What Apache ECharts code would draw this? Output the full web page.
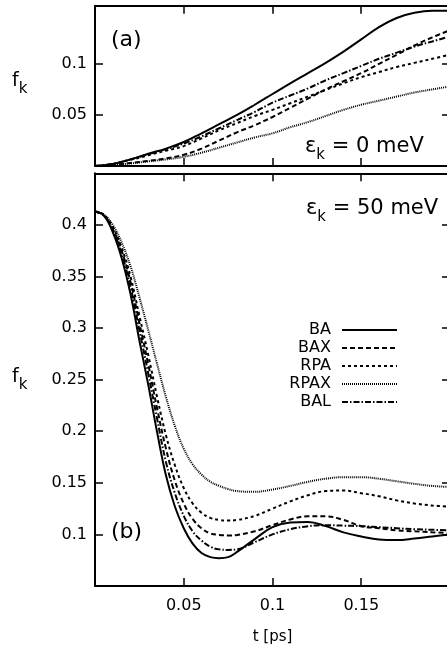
<!DOCTYPE html>
<html>
<head>
<meta charset="utf-8">
<script src="https://cdn.jsdelivr.net/npm/echarts@6/dist/echarts.min.js"></script>
<style>html,body{margin:0;padding:0;background:#fff}#c{width:447px;height:645px}</style>
</head>
<body>
<div id="c"></div>
<script>
// ---- panel (a): eps_k = 0 meV ----
const tA = [0,0.01,0.02,0.03,0.04,0.05,0.06,0.07,0.08,0.09,0.10,0.11,0.12,0.13,0.14,0.15,0.16,0.17,0.18,0.19,0.20];
const baA   = [0,0.002,0.0065,0.012,0.017,0.0235,0.032,0.041,0.050,0.060,0.0705,0.081,0.091,0.101,0.112,0.124,0.136,0.145,0.150,0.152,0.152];
const baxA  = [0,0.001,0.003,0.005,0.0075,0.011,0.017,0.025,0.033,0.040,0.048,0.057,0.066,0.075,0.083,0.091,0.100,0.109,0.118,0.126,0.133];
const rpaA  = [0,0.002,0.006,0.0105,0.015,0.0195,0.027,0.035,0.042,0.049,0.055,0.0615,0.068,0.0745,0.081,0.087,0.092,0.097,0.101,0.105,0.109];
const rpaxA = [0,0.001,0.0025,0.0045,0.0065,0.009,0.013,0.018,0.023,0.028,0.032,0.038,0.043,0.049,0.055,0.060,0.064,0.068,0.072,0.075,0.078];
const balA  = [0,0.002,0.0065,0.0115,0.0165,0.022,0.029,0.037,0.045,0.053,0.062,0.069,0.076,0.084,0.091,0.098,0.105,0.111,0.117,0.122,0.127];

// ---- panel (b): eps_k = 50 meV ----
const tB = [0,0.005,0.01,0.015,0.02,0.025,0.03,0.035,0.04,0.045,0.05,0.055,0.06,0.065,0.07,0.075,0.08,0.09,0.10,0.11,0.12,0.13,0.14,0.15,0.16,0.17,0.18,0.19,0.20];
const baB   = [0.413,0.409,0.393,0.368,0.333,0.288,0.245,0.199,0.157,0.127,0.106,0.091,0.082,0.078,0.077,0.078,0.083,0.0955,0.107,0.1115,0.112,0.108,0.102,0.098,0.095,0.0945,0.096,0.098,0.100];
const baxB  = [0.413,0.409,0.396,0.375,0.345,0.305,0.265,0.222,0.183,0.152,0.130,0.115,0.106,0.101,0.0995,0.099,0.0995,0.103,0.109,0.1145,0.1175,0.1175,0.114,0.108,0.106,0.104,0.103,0.102,0.1015];
const rpaB  = [0.413,0.410,0.398,0.378,0.350,0.312,0.274,0.233,0.196,0.167,0.145,0.130,0.121,0.116,0.114,0.1135,0.114,0.118,0.125,0.132,0.138,0.142,0.1425,0.140,0.137,0.133,0.130,0.128,0.127];
const rpaxB = [0.413,0.410,0.400,0.383,0.360,0.330,0.298,0.265,0.233,0.205,0.183,0.168,0.158,0.151,0.147,0.144,0.142,0.1413,0.1435,0.147,0.151,0.154,0.1555,0.1555,0.154,0.1515,0.149,0.147,0.146];
const balB  = [0.413,0.409,0.395,0.372,0.340,0.298,0.256,0.212,0.170,0.140,0.118,0.103,0.094,0.088,0.0855,0.085,0.0855,0.0925,0.100,0.105,0.108,0.109,0.1085,0.108,0.107,0.106,0.105,0.1045,0.104];

const seriesNames = ['BA','BAX','RPA','RPAX','BAL'];
const yTicksA = [0.05,0.10];

const FONT = 'DejaVu Sans';
const styles = {
  BA:   {type:'solid', width:2},
  BAX:  {type:[5,3], width:2},
  RPA:  {type:[3,3], width:2},
  RPAX: {type:[1,1], width:2},
  BAL:  {type:[6,2,1.5,2], width:2}
};
const zip = (t, v) => t.map((x, i) => [x, v[i]]);
const fmt = v => String(+(+v).toFixed(3));

const panelA = {BA:baA, BAX:baxA, RPA:rpaA, RPAX:rpaxA, BAL:balA};
const panelB = {BA:baB, BAX:baxB, RPA:rpaB, RPAX:rpaxB, BAL:balB};

const axLine = () => ({show:true, onZero:false, lineStyle:{color:'#000', width:2}});
const tick = () => ({show:true, inside:true, length:8, lineStyle:{color:'#000', width:1.5}});
const lbl = {color:'#000', fontFamily:FONT, fontSize:16};

function xAx(grid, pos, labels) {
  return {
    type:'value', gridIndex:grid, position:pos, min:0, max:0.2, interval:0.05,
    axisLine:axLine(), axisTick:tick(), splitLine:{show:false},
    axisLabel: labels ? Object.assign({show:true, showMinLabel:false, showMaxLabel:false, formatter:fmt, margin:12}, lbl) : {show:false}
  };
}

const xAxis = [xAx(0,'bottom',false), xAx(0,'top',false), xAx(1,'bottom',true), xAx(1,'top',false)];
xAxis[2].name = 't [ps]';
xAxis[2].nameLocation = 'middle';
xAxis[2].nameGap = 44;
xAxis[2].nameTextStyle = {color:'#000', fontFamily:FONT, fontSize:15};

const yAxis = [
  {type:'value', gridIndex:0, position:'left', min:0, max:0.157,
   axisLine:axLine(), axisTick:Object.assign(tick(), {customValues:yTicksA}), splitLine:{show:false},
   axisLabel:Object.assign({customValues:yTicksA, formatter:fmt, margin:8}, lbl)},
  {type:'value', gridIndex:0, position:'right', min:0, max:0.157,
   axisLine:axLine(), axisTick:Object.assign(tick(), {customValues:yTicksA}), splitLine:{show:false},
   axisLabel:{show:false}},
  {type:'value', gridIndex:1, position:'left', min:0.05, max:0.45, interval:0.05,
   axisLine:axLine(), axisTick:tick(), splitLine:{show:false},
   axisLabel:Object.assign({showMinLabel:false, showMaxLabel:false, formatter:fmt, margin:8}, lbl)},
  {type:'value', gridIndex:1, position:'right', min:0.05, max:0.45, interval:0.05,
   axisLine:axLine(), axisTick:tick(), splitLine:{show:false}, axisLabel:{show:false}}
];

const series = [];
seriesNames.forEach(n => {
  series.push({name:n, type:'line', xAxisIndex:0, yAxisIndex:0, data:zip(tA, panelA[n]),
    smooth:0.4, symbol:'none', color:'#000', lineStyle:Object.assign({color:'#000'}, styles[n]),
    emphasis:{disabled:true}, z:3});
  series.push({name:n, type:'line', xAxisIndex:2, yAxisIndex:2, data:zip(tB, panelB[n]),
    smooth:0.4, symbol:'none', color:'#000', lineStyle:Object.assign({color:'#000'}, styles[n]),
    emphasis:{disabled:true}, z:3});
});

const richEps = {
  e:{fontFamily:FONT, fontSize:21, color:'#000', lineHeight:24, verticalAlign:'bottom', padding:[0,0,6,0]},
  k:{fontFamily:FONT, fontSize:15, color:'#000', lineHeight:18, verticalAlign:'bottom'}
};
const richF = {
  f:{fontFamily:FONT, fontSize:19, color:'#000', lineHeight:22, verticalAlign:'bottom', padding:[0,0,6,0]},
  k:{fontFamily:FONT, fontSize:15, color:'#000', lineHeight:18, verticalAlign:'bottom'}
};

const chart = echarts.init(document.getElementById('c'), null, {renderer:'canvas'});
chart.setOption({
  animation:false,
  backgroundColor:'#fff',
  grid:[
    {left:95, top:5.7, width:355, height:160.3, outerBoundsMode:'none'},
    {left:95, top:173.3, width:355, height:412.7, outerBoundsMode:'none'}
  ],
  xAxis, yAxis, series,
  legend:{
    data:seriesNames, orient:'vertical', align:'right', right:44, top:316,
    itemWidth:55, itemHeight:14, itemGap:0, selectedMode:false,
    itemStyle:{opacity:0, borderWidth:0},
    textStyle:{fontFamily:FONT, fontSize:16, color:'#000', lineHeight:18, padding:[0,6,0,0]}
  },
  graphic:[
    {type:'text', left:111, top:29, style:{text:'(a)', font:'22px "DejaVu Sans"', fill:'#000'}},
    {type:'text', left:111, top:521, style:{text:'(b)', font:'22px "DejaVu Sans"', fill:'#000'}},
    {type:'text', left:305, top:136, style:{text:'{e|ε}{k|k}{e| = 0 meV}', rich:richEps}},
    {type:'text', left:306, top:198, style:{text:'{e|ε}{k|k}{e| = 50 meV}', rich:richEps}},
    {type:'text', left:12, top:72, style:{text:'{f|f}{k|k}', rich:richF}},
    {type:'text', left:12, top:368, style:{text:'{f|f}{k|k}', rich:richF}}
  ]
});
</script>
</body>
</html>
